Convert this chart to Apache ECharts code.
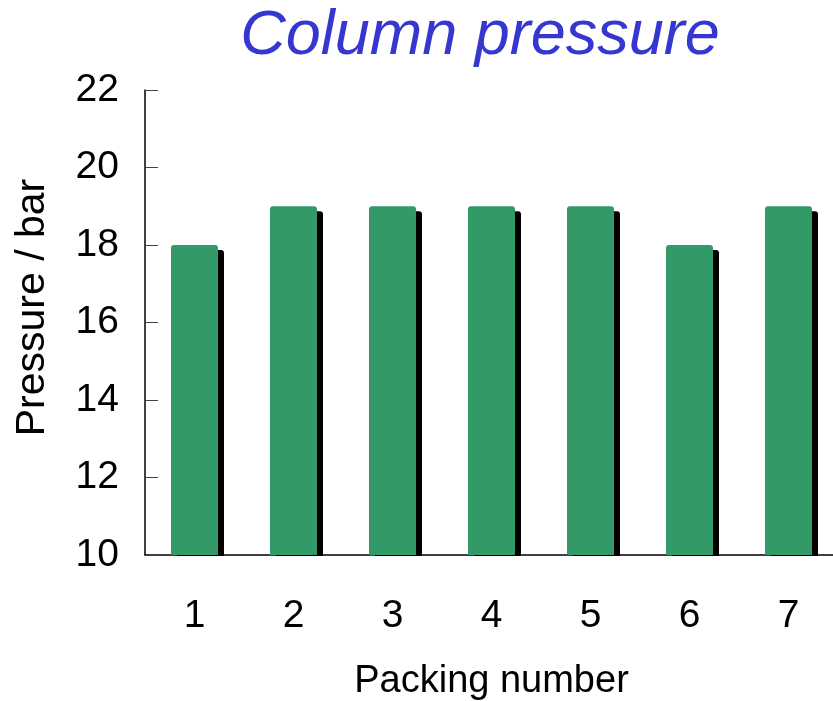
<!DOCTYPE html>
<html><head><meta charset="utf-8">
<script src="https://cdn.jsdelivr.net/npm/echarts@6/dist/echarts.min.js"></script>
<style>html,body{margin:0;background:#fff}#c{width:833px;height:701px}</style>
</head><body><div id="c"></div>
<script>
const categories = ['1', '2', '3', '4', '5', '6', '7'];
const pressure = [18, 19, 19, 19, 19, 18, 19];
const yTicks = { min: 10, max: 22, interval: 2 };

var myChart = echarts.init(document.getElementById('c'));
const font = 'Liberation Sans, Arial, sans-serif';
const option = {
    animation: false,
    title: {
        text: 'Column pressure',
        left: 475, top: 0, textAlign: 'center',
        textStyle: { fontFamily: font, fontSize: 63, fontStyle: 'italic', fontWeight: 'normal', color: '#3636d0' }
    },
    // white strip hides the bar shadows below the x axis
    graphic: [{
        type: 'rect', z: 100,
        shape: { x: 146, y: 556, width: 700, height: 20 },
        style: { fill: '#fff' }
    }],
    grid: { left: 145, right: -5, top: 90, bottom: 146, outerBoundsMode: 'none', containLabel: false },
    xAxis: {
        type: 'category',
        data: categories,
        name: 'Packing number',
        nameLocation: 'middle',
        nameGap: 108,
        nameTextStyle: { fontFamily: font, fontSize: 38, color: '#000', padding: [0, 0, 0, 0] },
        axisLine: { lineStyle: { color: '#000', width: 1.5 } },
        axisTick: { inside: true, length: 10, lineStyle: { color: '#444' } },
        axisLabel: { fontFamily: font, fontSize: 39, color: '#000', margin: 42 }
    },
    yAxis: {
        type: 'value',
        min: yTicks.min, max: yTicks.max, interval: yTicks.interval,
        name: 'Pressure / bar',
        nameLocation: 'middle',
        nameGap: 92,
        nameTextStyle: { fontFamily: font, fontSize: 41, color: '#000', padding: [0, 0, 0, 30] },
        axisLine: { show: true, lineStyle: { color: '#000', width: 1.5 } },
        axisTick: { show: true, inside: true, length: 13, lineStyle: { color: '#444' } },
        splitLine: { show: false },
        axisLabel: { fontFamily: font, fontSize: 39, color: '#000', margin: 26 }
    },
    series: [{
        type: 'bar',
        data: pressure,
        barWidth: 47,
        itemStyle: {
            color: '#339966',
            borderRadius: [3, 3, 0, 0],
            shadowColor: '#000',
            shadowOffsetX: 6,
            shadowOffsetY: 5,
            shadowBlur: 0
        }
    }]
};
myChart.setOption(option);
</script></body></html>
